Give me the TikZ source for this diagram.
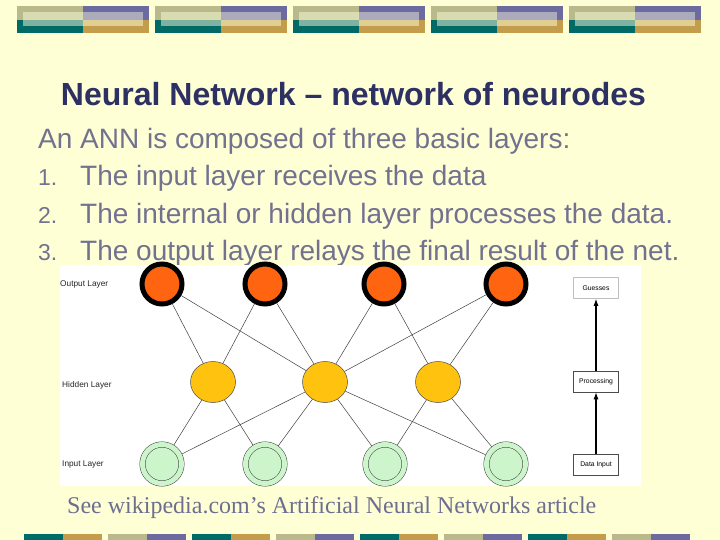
\documentclass[tikz,border=0pt]{standalone}
\usepackage{fontspec}
\setmainfont{Liberation Sans}
\newfontfamily\footserif{Liberation Serif}
\usetikzlibrary{shapes.geometric,arrows.meta}
\definecolor{bgc}{HTML}{FFFFD6}
\definecolor{olivec}{HTML}{B9B98B}
\definecolor{purpc}{HTML}{6B6BA0}
\definecolor{tealc}{HTML}{006B66}
\definecolor{goldc}{HTML}{C39C4C}
\definecolor{lolivec}{HTML}{D9DCB0}
\definecolor{lpurpc}{HTML}{ABABBD}
\definecolor{ltealc}{HTML}{7FB39F}
\definecolor{lgoldc}{HTML}{DFCF92}
\definecolor{titlec}{HTML}{2D3063}
\definecolor{bodyc}{HTML}{727290}
\definecolor{footc}{HTML}{6E6E90}
\definecolor{outc}{HTML}{FF6410}
\definecolor{hidc}{HTML}{FFC20E}
\definecolor{inc}{HTML}{CCF5CC}
\tikzset{
  outn/.style={circle,draw=black,line width=5pt,fill=outc,minimum size=40pt,inner sep=0pt},
  hidn/.style={ellipse,draw=black!70,line width=0.5pt,fill=hidc,minimum width=45pt,minimum height=41pt,inner sep=0pt},
  inn/.style={circle,draw=black!75,line width=0.5pt,double=inc,double distance=5pt,fill=inc,minimum size=39pt,inner sep=0pt,outer sep=3pt},
  conn/.style={draw=black!75,line width=0.5pt},
  laylbl/.style={font=\fontsize{8.3}{9}\selectfont,text=black!85,inner sep=0pt},
  flowbox/.style={draw=black!70,line width=0.5pt,fill=white,minimum width=45pt,minimum height=21pt,inner sep=0pt,font=\fontsize{6.8}{7}\selectfont},
  flowarr/.style={line width=1.1pt,-{Latex[length=7pt,width=5pt]}},
  bodytxt/.style={anchor=base west,inner sep=0pt,text=bodyc,font=\fontsize{28}{30}\selectfont},
  numtxt/.style={anchor=base west,inner sep=0pt,text=bodyc,font=\fontsize{23}{25}\selectfont}
}
\begin{document}
\begin{tikzpicture}[x=1pt,y=-1pt]
\useasboundingbox (0,0) rectangle (720,540);
\fill[bgc] (0,0) rectangle (720,540);
% top bars
\foreach \i in {0,...,4}{
  \begin{scope}[shift={(138*\i,0)}]
    \fill[olivec] (17,6) rectangle (83,20);
    \fill[purpc] (83,6) rectangle (149,20);
    \fill[tealc] (17,20) rectangle (83,33);
    \fill[goldc] (83,20) rectangle (149,33);
    \fill[lolivec] (23,12) rectangle (83,20);
    \fill[lpurpc] (83,12) rectangle (143,20);
    \fill[ltealc] (23,20) rectangle (83,26);
    \fill[lgoldc] (83,20) rectangle (143,26);
  \end{scope}
}
% bottom bars
\foreach \i in {0,...,7}{
  \begin{scope}[shift={(84*\i,0)}]
    \ifodd\i
      \fill[olivec] (24,534) rectangle (63,540);
      \fill[purpc] (63,534) rectangle (102,540);
    \else
      \fill[tealc] (24,534) rectangle (63,540);
      \fill[goldc] (63,534) rectangle (102,540);
    \fi
  \end{scope}
}
% title and text
\node[anchor=base,inner sep=0pt,text=titlec,font=\bfseries\fontsize{32}{34}\selectfont] (title) at (353.5,106) {Neural Network – network of neurodes};
\node[bodytxt] (l0) at (38,149) {An ANN is composed of three basic layers:};
\node[numtxt] (n1) at (38,186) {1.};
\node[bodytxt] (l1) at (80,186) {The input layer receives the data};
\node[numtxt] (n2) at (38,223) {2.};
\node[bodytxt] (l2) at (80,223) {The internal or hidden layer processes the data.};
\node[numtxt] (n3) at (38,260) {3.};
\node[bodytxt] (l3) at (80,260) {The output layer relays the final result of the net.};
% image
\fill[white] (60,265) rectangle (641,486);
\node[laylbl,anchor=west] (lo) at (60,284) {Output Layer};
\node[laylbl,anchor=west] (lh) at (62,385) {Hidden Layer};
\node[laylbl,anchor=west] (li) at (62,465) {Input Layer};
\node[outn] (o1) at (162,284) {};
\node[outn] (o2) at (265,284) {};
\node[outn] (o3) at (384,284) {};
\node[outn] (o4) at (506,284) {};
\node[hidn] (h1) at (213,382) {};
\node[hidn] (h2) at (325,382) {};
\node[hidn] (h3) at (438,382) {};
\node[inn] (i1) at (162,464) {};
\node[inn] (i2) at (265,464) {};
\node[inn] (i3) at (385,464) {};
\node[inn] (i4) at (506,464) {};
\foreach \a/\b in {o1/h1,o1/h2,o2/h1,o2/h2,o3/h2,o3/h3,o4/h2,o4/h3,
                   h1/i1,h1/i2,h2/i1,h2/i2,h2/i3,h2/i4,h3/i3,h3/i4}
  \draw[conn] (\a) -- (\b);
% flow
\node[flowbox,draw=black!25] (gs) at (596,288) {Guesses};
\node[flowbox] (pr) at (596,381.5) {Processing};
\node[flowbox] (di) at (596,464.5) {Data Input};
\draw[flowarr] (di) -- (pr);
\draw[flowarr] (pr) -- (gs);
% footer
\node[anchor=base west,inner sep=0pt,text=footc,font=\footserif\fontsize{24}{26}\selectfont] (foot) at (67,513) {See wikipedia.com’s Artificial Neural Networks article};
\end{tikzpicture}
\end{document}
